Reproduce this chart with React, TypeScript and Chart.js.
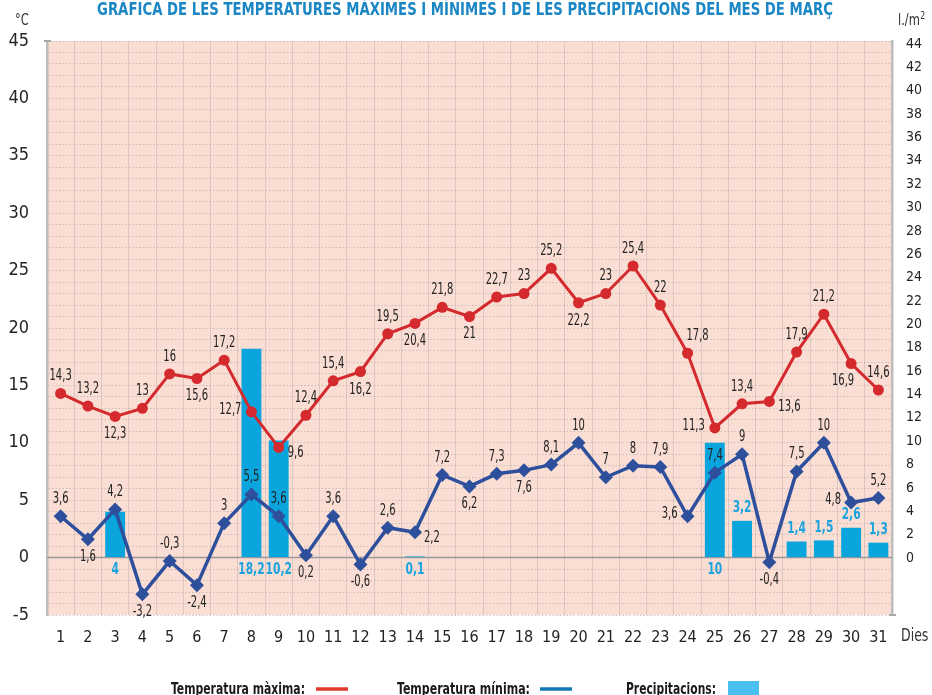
import React, { useEffect, useRef } from "react";
import { Chart, registerables } from "chart.js";

Chart.register(...registerables);

const days: string[] = Array.from({ length: 31 }, (_, i) => String(i + 1));
const tempMax: number[] = [14.3, 13.2, 12.3, 13, 16, 15.6, 17.2, 12.7, 9.6, 12.4, 15.4, 16.2, 19.5, 20.4, 21.8, 21, 22.7, 23, 25.2, 22.2, 23, 25.4, 22, 17.8, 11.3, 13.4, 13.6, 17.9, 21.2, 16.9, 14.6];
const tempMin: number[] = [3.6, 1.6, 4.2, -3.2, -0.3, -2.4, 3, 5.5, 3.6, 0.2, 3.6, -0.6, 2.6, 2.2, 7.2, 6.2, 7.3, 7.6, 8.1, 10, 7, 8, 7.9, 3.6, 7.4, 9, -0.4, 7.5, 10, 4.8, 5.2];
const precip: (number | null)[] = [null, null, 4, null, null, null, null, 18.2, 10.2, null, null, null, null, 0.1, null, null, null, null, null, null, null, null, null, null, 10, 3.2, null, 1.4, 1.5, 2.6, 1.3];
const leftTicks: number[] = [-5, 0, 5, 10, 15, 20, 25, 30, 35, 40, 45];
const rightTicks: number[] = Array.from({ length: 23 }, (_, i) => i * 2);

// label placement (style): a=above, b=below, l=left, r=right, ar=above-right, bl=below-left
const maxPlace: string[] = ["a", "a", "b", "a", "a", "b", "a", "l", "r", "a", "a", "b", "a", "b", "a", "b", "a", "a", "a", "b", "a", "a", "a", "ar", "l", "a", "r", "a", "a", "bl", "a"];
const minPlace: string[] = ["a", "b", "a", "b", "a", "b", "a", "a", "a", "b", "a", "b", "a", "r", "a", "b", "a", "b", "a", "a", "a", "a", "a", "l", "a", "a", "b", "a", "a", "l", "a"];
const precipPlace: string[] = ["", "", "b", "", "", "", "", "b", "b", "", "", "", "", "b", "", "", "", "", "", "", "", "", "", "", "b", "a", "", "a", "a", "a", "a"];

const FONT = "'Liberation Sans Narrow', 'DejaVu Sans Condensed', 'Roboto', sans-serif";
const RED = "#D42A2E";
const BLUE = "#2D4F9C";
const BAR = "#0AA5DC";
const fmt = (v: number) => String(v).replace(".", ",");

// draw text horizontally compressed (imitates a condensed face)
function txt(ctx: any, s: string, x: number, y: number, align: string, sx: number) {
  ctx.save();
  ctx.translate(x, y);
  ctx.scale(sx, 1);
  ctx.textAlign = align;
  ctx.fillText(s, 0, 0);
  ctx.restore();
}
// draw text fitted to a width
function fit(ctx: any, s: string, x: number, y: number, w: number) {
  const m = ctx.measureText(s).width;
  txt(ctx, s, x, y, "left", w / m);
}

const decorPlugin = {
  id: "decor",
  beforeDraw(chart: any) {
    const { ctx, chartArea: a } = chart;
    ctx.save();
    ctx.fillStyle = "#FADDD3";
    ctx.fillRect(a.left, a.top, a.right - a.left, a.bottom - a.top);
    ctx.restore();
  },
  beforeDatasetsDraw(chart: any) {
    const { ctx, chartArea: a } = chart;
    const y0 = chart.scales.y.getPixelForValue(0);
    ctx.save();
    ctx.strokeStyle = "#9a9a9a";
    ctx.lineWidth = 1.5;
    ctx.beginPath();
    ctx.moveTo(a.left, y0);
    ctx.lineTo(a.right, y0);
    ctx.stroke();
    ctx.strokeStyle = "#a8a8a8";
    ctx.lineWidth = 2;
    ctx.beginPath();
    ctx.moveTo(a.left - 3, a.top);
    ctx.lineTo(a.left + 4, a.top);
    ctx.moveTo(a.right - 3, a.bottom);
    ctx.lineTo(a.right + 4, a.bottom);
    ctx.stroke();
    ctx.restore();
  },
  afterDatasetsDraw(chart: any) {
    const { ctx } = chart;
    ctx.save();
    ctx.textBaseline = "middle";
    const drawSet = (idx: number, values: number[], place: string[]) => {
      const meta = chart.getDatasetMeta(idx);
      ctx.font = `15px ${FONT}`;
      ctx.fillStyle = "#222";
      meta.data.forEach((el: any, i: number) => {
        const t = fmt(values[i]);
        const p = place[i];
        let x = el.x, y = el.y;
        let al = "center";
        if (p === "a") { y -= 17; }
        else if (p === "b") { y += 18; }
        else if (p === "l") { al = "right"; x -= 10; y -= 2; }
        else if (p === "r") { al = "left"; x += 9; y += 6; }
        else if (p === "ar") { x += 10; y -= 17; }
        else if (p === "bl") { x -= 8; y += 18; }
        txt(ctx, t, x, y, al, 0.74);
      });
    };
    drawSet(0, tempMax, maxPlace);
    drawSet(1, tempMin, minPlace);
    const meta = chart.getDatasetMeta(2);
    const y0 = chart.scales.y.getPixelForValue(0);
    ctx.font = `bold 16px ${FONT}`;
    ctx.fillStyle = "#1AA3DE";
    meta.data.forEach((el: any, i: number) => {
      const v = precip[i];
      if (v == null) return;
      const y = precipPlace[i] === "b" ? y0 + 12 : el.y - 13;
      txt(ctx, fmt(v), el.x, y, "center", 0.74);
    });
    ctx.restore();
  },
  afterDraw(chart: any) {
    const { ctx, chartArea: a } = chart;
    ctx.save();
    ctx.textBaseline = "alphabetic";
    // title
    ctx.font = `bold 18px ${FONT}`;
    ctx.fillStyle = "#1A86C4";
    fit(ctx, "GRÀFICA DE LES TEMPERATURES MÀXIMES I MÍNIMES I DE LES PRECIPITACIONS DEL MES DE MARÇ", 97, 15, 736);
    // axis units
    ctx.fillStyle = "#333";
    ctx.font = `15px ${FONT}`;
    txt(ctx, "°C", 15, 25, "left", 0.85);
    const w = ctx.measureText("l./m").width * 0.85;
    txt(ctx, "l./m", 898, 25, "left", 0.85);
    ctx.font = `10px ${FONT}`;
    txt(ctx, "2", 898 + w + 0.5, 19, "left", 0.85);
    // Dies
    ctx.font = `17px ${FONT}`;
    ctx.textBaseline = "middle";
    txt(ctx, "Dies", a.right + 9, 637, "left", 0.82);
    // legend
    ctx.font = `bold 16px ${FONT}`;
    ctx.fillStyle = "#1a1a1a";
    ctx.textBaseline = "alphabetic";
    fit(ctx, "Temperatura màxima:", 171, 694, 134);
    fit(ctx, "Temperatura mínima:", 397, 694, 133);
    fit(ctx, "Precipitacions:", 626, 694, 90);
    ctx.lineWidth = 3.5;
    ctx.strokeStyle = "#E03A2F";
    ctx.beginPath(); ctx.moveTo(316, 689); ctx.lineTo(348, 689); ctx.stroke();
    ctx.strokeStyle = "#1577B5";
    ctx.beginPath(); ctx.moveTo(540, 689); ctx.lineTo(572, 689); ctx.stroke();
    ctx.fillStyle = "#4BC0F0";
    ctx.fillRect(728, 681, 31, 14);
    ctx.restore();
  },
};

export default function App() {
  const ref = useRef<HTMLCanvasElement>(null);
  useEffect(() => {
    if (!ref.current) return;
    const chart = new Chart(ref.current, {
      type: "bar",
      data: {
        labels: days,
        datasets: [
          {
            type: "line",
            label: "Temperatura màxima",
            data: tempMax,
            borderColor: RED,
            backgroundColor: RED,
            borderWidth: 3,
            pointStyle: "circle",
            pointRadius: 5.5,
            pointBorderWidth: 0,
            tension: 0,
            yAxisID: "y",
            order: 1,
          } as any,
          {
            type: "line",
            label: "Temperatura mínima",
            data: tempMin,
            borderColor: BLUE,
            backgroundColor: BLUE,
            borderWidth: 3.5,
            pointStyle: "rectRot",
            pointRadius: 7,
            pointBorderWidth: 0,
            tension: 0,
            yAxisID: "y",
            order: 2,
          } as any,
          {
            type: "bar",
            label: "Precipitacions",
            data: precip,
            backgroundColor: BAR,
            borderWidth: 0,
            barPercentage: 0.73,
            categoryPercentage: 1,
            yAxisID: "y",
            order: 3,
          } as any,
        ],
      },
      options: {
        animation: false,
        responsive: false,
        events: [],
        layout: { padding: { top: 41, left: 0, right: 0, bottom: 0 } },
        plugins: { legend: { display: false }, title: { display: false }, tooltip: { enabled: false } },
        scales: {
          x: {
            grid: { color: "rgba(205,188,183,0.65)", lineWidth: 1, drawTicks: false, offset: true },
            border: { display: false },
            ticks: { color: "#222", font: { family: FONT, size: 16 }, padding: 13, autoSkip: false, maxRotation: 0 },
            afterFit: (s: any) => { s.height = 80; },
          },
          y: {
            position: "left",
            min: -5,
            max: 45,
            grid: { color: "rgba(170,162,160,0.55)", lineWidth: 1, drawTicks: false },
            border: { display: true, color: "#bdbdbd", width: 2.5, dash: [1.5, 2] },
            ticks: {
              stepSize: 1,
              autoSkip: false,
              color: "#262626",
              font: { family: FONT, size: 18 },
              padding: 18,
              callback: (v: any) => (leftTicks.includes(Number(v)) ? String(v) : ""),
            },
            afterFit: (s: any) => { s.width = 47; },
          },
          y2: {
            position: "right",
            min: -4.88,
            max: 44.26,
            grid: { drawOnChartArea: false, drawTicks: false },
            border: { display: true, color: "#bdbdbd", width: 2.5 },
            afterBuildTicks: (s: any) => { s.ticks = rightTicks.map((v) => ({ value: v })); },
            ticks: { autoSkip: false, color: "#262626", font: { family: FONT, size: 14 }, padding: 14 },
            afterFit: (s: any) => { s.width = 40; },
          },
        },
      },
      plugins: [decorPlugin],
    });
    return () => chart.destroy();
  }, []);
  return (
    <div style={{ position: "absolute", left: 0, top: 0, width: 932, height: 695, background: "#fff" }}>
      <canvas ref={ref} width={932} height={695} style={{ display: "block" }} />
    </div>
  );
}
